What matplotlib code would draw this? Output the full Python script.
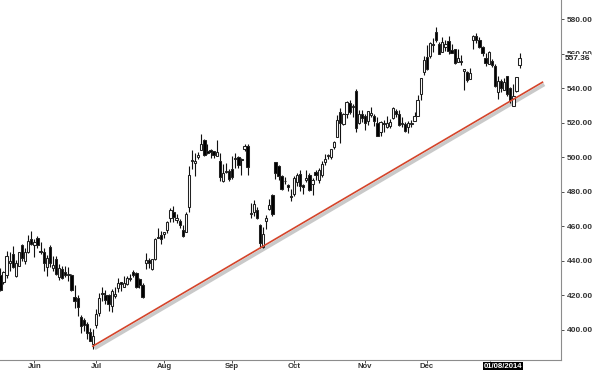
import numpy as np
import pandas as pd
import matplotlib
matplotlib.use("Agg")
import matplotlib.pyplot as plt
from matplotlib.patches import Rectangle

# daily candles, mid May 2013 to mid Jan 2014
dates = [
    "2013-05-16", "2013-05-17", "2013-05-20", "2013-05-21", "2013-05-22", "2013-05-23", "2013-05-24",
    "2013-05-28", "2013-05-29", "2013-05-30", "2013-05-31",
    "2013-06-03", "2013-06-04", "2013-06-05", "2013-06-06", "2013-06-07", "2013-06-10", "2013-06-11",
    "2013-06-12", "2013-06-13", "2013-06-14", "2013-06-17", "2013-06-18", "2013-06-19", "2013-06-20",
    "2013-06-21", "2013-06-24", "2013-06-25", "2013-06-26", "2013-06-27", "2013-06-28",
    "2013-07-01", "2013-07-02", "2013-07-03", "2013-07-05", "2013-07-08", "2013-07-09", "2013-07-10",
    "2013-07-11", "2013-07-12", "2013-07-15", "2013-07-16", "2013-07-17", "2013-07-18", "2013-07-19",
    "2013-07-22", "2013-07-23", "2013-07-24", "2013-07-25", "2013-07-26", "2013-07-29", "2013-07-30",
    "2013-07-31",
    "2013-08-01", "2013-08-02", "2013-08-05", "2013-08-06", "2013-08-07", "2013-08-08", "2013-08-09",
    "2013-08-12", "2013-08-13", "2013-08-14", "2013-08-15", "2013-08-16", "2013-08-19", "2013-08-20",
    "2013-08-21", "2013-08-22", "2013-08-23", "2013-08-26", "2013-08-27", "2013-08-28", "2013-08-29",
    "2013-08-30",
    "2013-09-03", "2013-09-04", "2013-09-05", "2013-09-06", "2013-09-09", "2013-09-10", "2013-09-11",
    "2013-09-12", "2013-09-13", "2013-09-16", "2013-09-17", "2013-09-18", "2013-09-19", "2013-09-20",
    "2013-09-23", "2013-09-24", "2013-09-25", "2013-09-26", "2013-09-27", "2013-09-30",
    "2013-10-01", "2013-10-02", "2013-10-03", "2013-10-04", "2013-10-07", "2013-10-08", "2013-10-09",
    "2013-10-10", "2013-10-11", "2013-10-14", "2013-10-15", "2013-10-16", "2013-10-17", "2013-10-18",
    "2013-10-21", "2013-10-22", "2013-10-23", "2013-10-24", "2013-10-25", "2013-10-28", "2013-10-29",
    "2013-10-30", "2013-10-31",
    "2013-11-01", "2013-11-04", "2013-11-05", "2013-11-06", "2013-11-07", "2013-11-08", "2013-11-11",
    "2013-11-12", "2013-11-13", "2013-11-14", "2013-11-15", "2013-11-18", "2013-11-19", "2013-11-20",
    "2013-11-21", "2013-11-22", "2013-11-25", "2013-11-26", "2013-11-27", "2013-11-29",
    "2013-12-02", "2013-12-03", "2013-12-04", "2013-12-05", "2013-12-06", "2013-12-09", "2013-12-10",
    "2013-12-11", "2013-12-12", "2013-12-13", "2013-12-16", "2013-12-17", "2013-12-18", "2013-12-19",
    "2013-12-20", "2013-12-23", "2013-12-24", "2013-12-26", "2013-12-27", "2013-12-30", "2013-12-31",
    "2014-01-02", "2014-01-03", "2014-01-06", "2014-01-07", "2014-01-08", "2014-01-09", "2014-01-10",
    "2014-01-13", "2014-01-14", "2014-01-15",
]

opens = [
    431.8, 428.0, 431.9, 438.8, 444.1, 431.1, 437.0, 449.0, 440.0, 445.0, 452.5,
    449.1, 453.2, 445.7, 445.0, 436.5, 448.0, 435.7, 441.0, 430.6, 435.4, 433.6, 431.6, 431.9, 419.3,
    418.5, 407.4, 405.5, 403.7, 399.0, 392.0,
    402.7, 409.7, 420.9, 420.4, 420.1, 413.6, 419.6, 424.0, 427.7, 425.0, 426.5, 429.7, 433.4, 433.2,
    429.5, 426.0, 438.9, 440.7, 435.3, 440.8, 454.0, 454.9,
    455.8, 457.6, 464.7, 468.0, 463.8, 463.3, 458.0, 456.9, 470.9, 497.9, 496.4, 500.2, 504.0, 509.7,
    503.6, 504.0, 503.7, 500.8, 498.0, 486.0, 491.6, 492.0,
    493.1, 499.6, 500.3, 498.4, 505.0, 506.2, 467.0, 468.5, 469.3, 461.0, 447.9, 463.2, 470.0, 478.0,
    497.0, 494.9, 489.2, 486.0, 483.8, 477.3,
    478.5, 485.6, 490.5, 483.9, 486.6, 489.9, 484.6, 491.3, 486.9, 489.8, 497.5, 500.8, 499.9, 505.9,
    511.8, 526.4, 519.0, 525.0, 531.3, 529.0, 538.2, 519.6, 525.0,
    524.0, 521.1, 524.6, 524.0, 520.0, 514.6, 519.9, 517.7, 518.0, 522.8, 526.6, 524.9, 519.0, 519.2,
    517.6, 519.5, 521.0, 524.1, 536.3, 549.5,
    558.0, 558.3, 565.5, 572.7, 565.8, 560.9, 563.6, 567.0, 562.1, 562.9, 555.0, 555.8, 549.7, 549.5,
    545.4, 568.0, 569.9, 568.1, 563.8, 557.5, 554.2,
    555.7, 552.9, 537.5, 544.3, 538.8, 546.8, 539.8, 529.9, 538.2, 553.5,
]

highs = [
    436.0, 434.0, 445.5, 445.0, 448.4, 440.4, 445.4, 449.8, 447.5, 454.9, 457.1,
    452.4, 454.4, 450.7, 447.5, 443.2, 449.3, 442.8, 442.8, 438.0, 437.0, 437.0, 436.3, 432.2, 425.9,
    420.0, 408.4, 406.7, 404.8, 401.4, 400.3,
    412.3, 421.6, 424.9, 423.3, 421.0, 423.5, 424.8, 429.8, 428.0, 431.5, 431.0, 432.2, 434.9, 433.3,
    429.8, 426.9, 444.6, 441.4, 441.0, 453.3, 458.9, 457.3,
    456.8, 462.8, 470.7, 471.9, 467.0, 464.5, 460.5, 468.5, 494.7, 504.3, 502.2, 502.9, 513.7, 510.6,
    507.5, 505.0, 503.7, 510.2, 502.5, 495.8, 496.5, 492.9,
    500.6, 502.2, 500.8, 499.4, 507.9, 507.4, 473.7, 475.4, 471.2, 461.6, 459.7, 466.4, 475.8, 478.6,
    497.0, 495.4, 489.6, 488.6, 484.7, 481.7,
    489.0, 491.0, 492.4, 484.6, 492.7, 490.6, 487.8, 492.4, 493.6, 497.6, 502.0, 502.0, 504.8, 509.3,
    524.3, 528.5, 525.8, 532.5, 533.2, 531.0, 539.3, 527.5, 527.5,
    524.8, 526.8, 528.9, 524.9, 523.3, 521.0, 521.7, 523.9, 522.3, 529.3, 528.0, 527.2, 523.4, 520.4,
    521.0, 521.8, 525.9, 536.1, 546.0, 558.3,
    565.0, 566.4, 569.2, 575.1, 566.8, 569.6, 567.9, 570.0, 565.3, 562.9, 562.6, 559.4, 551.0, 550.0,
    551.6, 570.7, 571.9, 569.5, 564.4, 560.1, 561.3,
    557.0, 553.7, 546.8, 545.0, 545.6, 546.9, 540.8, 542.5, 546.7, 560.2,
]

lows = [
    422.7, 426.5, 430.0, 434.3, 436.1, 430.6, 437.0, 440.1, 438.0, 444.5, 449.4,
    442.5, 447.4, 443.7, 434.0, 431.0, 436.3, 434.4, 431.8, 428.7, 429.7, 430.6, 428.6, 422.6, 412.9,
    408.1, 398.1, 399.5, 394.6, 393.6, 388.9,
    401.2, 408.0, 417.0, 415.3, 410.7, 410.4, 418.3, 422.1, 422.3, 424.8, 425.8, 428.2, 430.5, 424.4,
    424.1, 418.7, 435.3, 435.8, 434.8, 440.2, 453.0, 449.9,
    453.3, 456.3, 462.2, 462.5, 461.8, 458.9, 453.7, 456.8, 468.0, 493.3, 489.0, 498.8, 504.0, 500.8,
    501.8, 499.4, 499.7, 500.5, 486.3, 485.6, 491.1, 486.5,
    487.4, 493.6, 493.6, 489.8, 503.5, 489.5, 464.8, 466.0, 464.5, 447.2, 447.5, 458.3, 469.3, 466.0,
    487.5, 487.0, 480.9, 484.4, 480.7, 474.4,
    477.5, 483.6, 480.7, 478.6, 485.6, 480.5, 478.3, 487.0, 485.1, 488.6, 495.5, 498.8, 499.0, 505.0,
    511.5, 508.0, 518.5, 522.5, 525.1, 523.2, 514.5, 519.0, 520.6,
    515.8, 518.9, 523.0, 518.2, 512.5, 512.0, 514.5, 517.0, 516.9, 521.9, 523.0, 518.2, 517.5, 514.4,
    513.9, 517.6, 520.7, 524.0, 533.4, 547.8,
    550.4, 557.7, 560.8, 566.4, 559.6, 560.9, 561.2, 559.7, 560.4, 553.7, 555.0, 553.4, 538.8, 543.7,
    545.2, 562.5, 566.0, 563.4, 558.3, 552.9, 554.0,
    552.0, 540.4, 533.6, 537.9, 538.7, 535.4, 531.1, 529.9, 537.7, 551.7,
]

closes = [
    423.2, 433.3, 442.9, 439.7, 436.6, 438.5, 445.2, 441.4, 445.0, 451.6, 449.7,
    450.7, 449.3, 445.1, 438.6, 441.8, 438.9, 437.6, 432.2, 436.0, 430.1, 432.0, 431.8, 423.0, 416.8,
    413.5, 402.5, 402.6, 398.1, 393.8, 396.5,
    409.2, 418.5, 420.8, 417.4, 415.1, 422.4, 420.7, 427.3, 426.5, 427.4, 430.2, 430.3, 431.8, 425.0,
    426.3, 419.0, 440.5, 438.5, 441.0, 452.5, 453.3, 452.5,
    456.7, 462.5, 469.5, 465.3, 465.0, 461.0, 454.5, 467.4, 489.6, 498.5, 497.9, 501.1, 507.7, 501.1,
    502.4, 503.0, 501.0, 503.0, 488.6, 490.9, 491.7, 487.2,
    488.6, 498.7, 495.3, 498.2, 506.2, 494.6, 467.7, 472.7, 464.9, 450.1, 455.3, 464.7, 472.3, 467.4,
    490.6, 489.1, 481.5, 486.2, 482.8, 476.8,
    488.0, 489.6, 483.4, 483.0, 487.8, 480.9, 486.6, 489.6, 492.8, 496.0, 498.7, 501.1, 504.5, 508.9,
    521.4, 519.9, 525.0, 531.9, 526.0, 529.9, 516.7, 524.9, 522.7,
    520.0, 526.8, 525.5, 520.9, 512.5, 520.6, 519.1, 520.0, 520.6, 528.2, 525.0, 518.4, 519.6, 515.0,
    520.0, 519.8, 523.7, 533.4, 546.0, 556.1,
    551.2, 566.3, 565.0, 567.9, 560.0, 566.4, 565.6, 561.4, 560.5, 554.4, 557.5, 555.0, 550.8, 544.5,
    549.0, 570.1, 567.7, 563.9, 560.1, 554.5, 561.0,
    553.1, 541.0, 543.9, 540.0, 543.5, 536.5, 532.9, 535.7, 546.4, 557.36,
]

month_labels = ["Jun", "Jul", "Aug", "Sep", "Oct", "Nov", "Dec"]
price_ticks = [400, 420, 440, 460, 480, 500, 520, 540, 560, 580]
last_label = "01/08/2014"

# trend line drawn on the chart (date index, price)
trend_x = [29.9, 175.4]
trend_y = [390.6, 543.4]

df = pd.DataFrame({"date": pd.to_datetime(dates), "open": opens, "high": highs,
                   "low": lows, "close": closes})

fig = plt.figure(figsize=(6.0, 3.71), dpi=100)
ax = fig.add_axes([0.0, 11 / 371, 561 / 600, 360 / 371])

w = 0.74
for i, row in df.iterrows():
    up = row["close"] >= row["open"]
    ax.vlines(i, row["low"], row["high"], color="#111111", linewidth=0.8, zorder=2)
    lo = min(row["open"], row["close"])
    h = max(abs(row["close"] - row["open"]), 0.5)
    ax.add_patch(Rectangle((i - w / 2, lo), w, h,
                           facecolor="white" if up else "black",
                           edgecolor="#222222", linewidth=0.75, zorder=3))

# trend line with its drop shadow
ax.plot([t + 0.6 for t in trend_x], [t - 1.3 for t in trend_y],
        color="#c9c9c9", linewidth=2.6, solid_capstyle="butt", zorder=1)
ax.plot(trend_x, trend_y, color="#d4442a", linewidth=1.2, zorder=4)

ax.set_xlim(-0.13, 181.4)
ax.set_ylim(382.6, 591.0)

# month ticks at the first trading day of each month
firsts = df.groupby(df["date"].dt.to_period("M")).head(1).index.tolist()
month_pos = [p for p in firsts if 1 <= p and df.loc[p, "date"].year == 2013 and df.loc[p, "date"].month >= 6]
ax.set_xticks(month_pos)
ax.set_xticklabels(month_labels)
jan_pos = [p for p in firsts if df.loc[p, "date"].year == 2014][0]
ax.axvline(jan_pos - 0.5, ymin=-0.008, ymax=0, color="#8c8c8c", linewidth=0.6, clip_on=False)
ax.text(jan_pos - 2.6, -0.007, last_label, transform=ax.get_xaxis_transform(),
        ha="left", va="top", fontsize=5.6, fontweight="bold", color="white",
        family="Liberation Sans",
        bbox=dict(boxstyle="square,pad=0.08", facecolor="black", edgecolor="none"))

ax.yaxis.tick_right()
ax.set_yticks(price_ticks)
ax.set_yticklabels([f"{v:.2f}" for v in price_ticks])
ax.tick_params(axis="y", labelsize=6, colors="#333333", length=2.5, width=0.6, pad=1.5)
ax.tick_params(axis="x", labelsize=5.6, colors="#333333", length=2, width=0.6, pad=0.5)
for lab in ax.get_xticklabels() + ax.get_yticklabels():
    lab.set_family("Liberation Sans")
    lab.set_fontweight("bold")

# last price label
ax.text(1.007, closes[-1], f"{closes[-1]:.2f}", transform=ax.get_yaxis_transform(),
        ha="left", va="center", fontsize=6, fontweight="bold", color="#222222",
        family="Liberation Sans",
        bbox=dict(boxstyle="square,pad=0.05", facecolor="white", edgecolor="none"))

for side in ["left", "top"]:
    ax.spines[side].set_visible(False)
for side in ["right", "bottom"]:
    ax.spines[side].set_color("#8c8c8c")
    ax.spines[side].set_linewidth(0.8)

fig.savefig("out.png", dpi=100)
